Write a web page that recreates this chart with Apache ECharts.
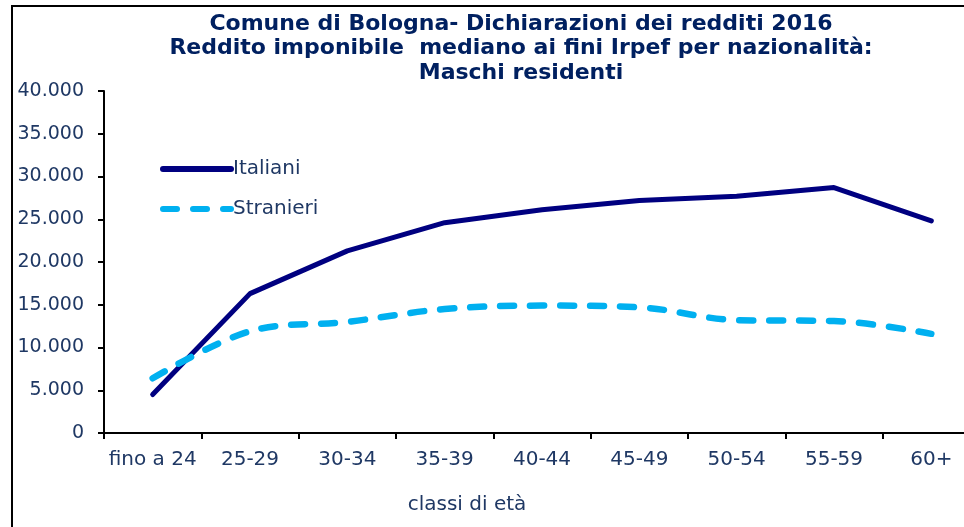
<!DOCTYPE html>
<html>
<head>
<meta charset="utf-8">
<script src="https://cdn.jsdelivr.net/npm/echarts@6/dist/echarts.min.js"></script>
<style>
  html, body { margin: 0; padding: 0; background: #fff; }
  #chart { width: 964px; height: 527px; }
</style>
</head>
<body>
<div id="chart"></div>
<script>
// classi di età
const categories = ['fino a 24', '25-29', '30-34', '35-39', '40-44', '45-49', '50-54', '55-59', '60+'];
// reddito mediano (euro)
const italiani = [4500, 16300, 21300, 24600, 26100, 27200, 27700, 28700, 24800];
const stranieri = [6400, 11900, 13000, 14500, 14900, 14700, 13200, 13100, 11600];

const textColor = '#1f3864';
const font = 'Verdana, "DejaVu Sans", sans-serif';

const chart = echarts.init(document.getElementById('chart'));

chart.setOption({
    animation: false,
    title: {
        text: 'Comune di Bologna- Dichiarazioni dei redditi 2016\nReddito imponibile  mediano ai fini Irpef per nazionalità:\nMaschi residenti',
        left: 516,
        textAlign: 'center',
        top: 7,
        textStyle: {
            color: '#002060',
            fontFamily: '"DejaVu Sans", sans-serif',
            fontWeight: 'bold',
            fontSize: 22,
            lineHeight: 24.5,
        },
    },
    legend: {
        orient: 'vertical',
        left: 160,
        top: 159,
        padding: 0,
        itemWidth: 68,
        itemHeight: 22,
        itemGap: 20,
        selectedMode: false,
        itemStyle: {opacity: 0},
        lineStyle: {width: 6, cap: 'round'},
        textStyle: {color: textColor, fontFamily: font, fontSize: 20, padding: [0, 0, 0, -3]},
        data: ['Italiani', 'Stranieri'],
    },
    grid: {left: 104, top: 91, width: 876, bottom: 94, outerBoundsMode: 'none', containLabel: false},
    xAxis: {
        type: 'category',
        data: categories,
        boundaryGap: true,
        name: 'classi di età',
        nameLocation: 'middle',
        nameGap: 62,
        nameTextStyle: {color: textColor, fontFamily: font, fontSize: 20, padding: [0, 150, 0, 0]},
        axisLine: {lineStyle: {color: '#000', width: 2}},
        axisTick: {show: true, length: 6, interval: 0, lineStyle: {color: '#000', width: 2}},
        axisLabel: {color: textColor, fontFamily: font, fontSize: 20, margin: 17, interval: 0},
    },
    yAxis: {
        type: 'value',
        min: 0,
        max: 40000,
        interval: 5000,
        axisLine: {show: true, lineStyle: {color: '#000', width: 2}},
        axisTick: {show: true, length: 6, lineStyle: {color: '#000', width: 2}},
        splitLine: {show: false},
        axisLabel: {
            color: textColor,
            fontFamily: font,
            fontSize: 19,
            margin: 20,
            formatter: v => v.toLocaleString('de-DE'),
        },
    },
    graphic: [{
        type: 'rect',
        shape: {x: 12, y: 6, width: 1000, height: 600},
        style: {fill: 'none', stroke: '#000', lineWidth: 2},
        silent: true,
    }],
    series: [
        {
            name: 'Italiani',
            type: 'line',
            data: italiani,
            symbol: 'none',
            lineStyle: {color: '#000080', width: 5, cap: 'round'},
            itemStyle: {color: '#000080'},
        },
        {
            name: 'Stranieri',
            type: 'line',
            data: stranieri,
            symbol: 'none',
            smooth: 0.35,
            lineStyle: {color: '#00b0f0', width: 6.5, type: [14, 16], cap: 'round'},
            itemStyle: {color: '#00b0f0'},
        },
    ],
});
</script>
</body>
</html>
